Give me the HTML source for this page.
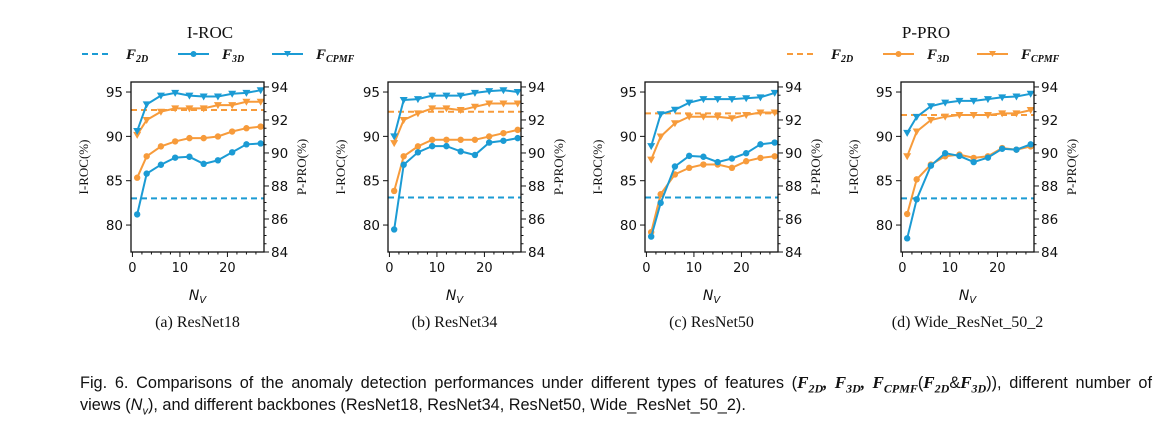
<!DOCTYPE html>
<html><head><meta charset="utf-8">
<style>
body{margin:0;background:#fff;width:1171px;height:424px;overflow:hidden;}
svg{display:block;}
.cap{position:absolute;left:80px;font-family:"Liberation Sans",sans-serif;font-size:16.3px;color:#111;white-space:nowrap;}
.m{font-family:"Liberation Serif",serif;font-weight:bold;font-style:italic;font-size:17px;}
.m sub{font-size:12px;}
</style></head>
<body>
<svg id="chart" width="1171" height="424" xmlns="http://www.w3.org/2000/svg"></svg>
<div class="cap" style="top:373px;width:1072px;text-align:justify;text-align-last:justify;">Fig. 6. Comparisons of the anomaly detection performances under different types of features (<span class="m">F<sub>2D</sub>, F<sub>3D</sub>, F<sub>CPMF</sub></span>(<span class="m">F<sub>2D</sub></span>&amp;<span class="m">F<sub>3D</sub></span>)), different number of</div>
<div class="cap" style="top:396px;">views (<i>N<sub style="font-size:11px">v</sub></i>), and different backbones (ResNet18, ResNet34, ResNet50, Wide_ResNet_50_2).</div>
<script>
const nv = [1,3,6,9,12,15,18,21,24,27];
const panels = ["(a) ResNet18","(b) ResNet34","(c) ResNet50","(d) Wide_ResNet_50_2"];
const roc2d = [83.0, 83.1, 83.1, 83.0];
const pro2d = [92.6, 92.5, 92.4, 92.3];
const roc3d = [
 [81.2,85.8,86.8,87.6,87.7,86.9,87.3,88.2,89.1,89.2],
 [79.5,86.8,88.2,88.9,88.9,88.3,87.9,89.3,89.5,89.8],
 [78.7,82.5,86.6,87.8,87.7,87.1,87.5,88.1,89.1,89.3],
 [78.5,82.9,86.7,88.1,87.8,87.1,87.6,88.6,88.5,89.1]];
const rocCpmf = [
 [90.6,93.6,94.6,94.9,94.6,94.5,94.5,94.8,94.9,95.2],
 [90.0,94.1,94.2,94.6,94.6,94.6,94.9,95.1,95.2,95.0],
 [88.9,92.5,93.0,93.8,94.2,94.2,94.2,94.3,94.4,94.9],
 [90.4,92.2,93.4,93.8,94.0,94.0,94.2,94.4,94.5,94.8]];
const pro3d = [
 [88.5,89.8,90.4,90.7,90.9,90.9,91.0,91.3,91.5,91.6],
 [87.7,89.8,90.4,90.8,90.8,90.8,90.8,91.0,91.2,91.4],
 [85.2,87.5,88.7,89.1,89.3,89.3,89.1,89.5,89.7,89.8],
 [86.3,88.4,89.3,89.8,89.9,89.7,89.8,90.3,90.2,90.4]];
const proCpmf = [
 [91.1,92.0,92.5,92.7,92.7,92.7,92.9,92.9,93.1,93.1],
 [90.6,92.0,92.4,92.7,92.7,92.6,92.8,93.0,93.0,93.0],
 [89.6,91.0,91.8,92.2,92.2,92.2,92.1,92.3,92.45,92.45],
 [89.8,91.3,92.0,92.2,92.3,92.3,92.3,92.4,92.4,92.6]];
const xTicks = [0,10,20];
const rocTicks = [80,85,90,95];
const proTicks = [84,86,88,90,92,94];

const BLUE="#1b9bd4", ORANGE="#f79b3b";
const NS="http://www.w3.org/2000/svg";
const svg=document.getElementById('chart');
function mk(tag,attrs,parent){const e=document.createElementNS(NS,tag);for(const k in attrs)e.setAttribute(k,attrs[k]);(parent||svg).appendChild(e);return e;}
function txt(s,attrs,parent){const e=mk('text',attrs,parent);e.textContent=s;return e;}

const lefts=[131,388,645,901], W=133, TOP=82, BOT=252;
const X0=-0.3, X1=27.7, L0=76.96, L1=96.13, R0=84, R1=94.3;

const t1=txt("I-ROC",{x:210,y:38,'font-family':'Liberation Serif, serif','font-size':17,'text-anchor':'middle',fill:'#111'});

const t2=txt("P-PRO",{x:926,y:38,'font-family':'Liberation Serif, serif','font-size':17,'text-anchor':'middle',fill:'#111'});


function legendEntry(x,color,kind,sub,name){
  const g=mk('g',{});
  
  
  const y=54;
  if(kind==='dash') mk('line',{x1:x,y1:y,x2:x+30,y2:y,stroke:color,'stroke-width':2,'stroke-dasharray':'6,4'},g);
  else mk('line',{x1:x,y1:y,x2:x+31,y2:y,stroke:color,'stroke-width':2},g);
  if(kind==='dot') mk('circle',{cx:x+15.5,cy:y,r:3,fill:color},g);
  if(kind==='tri') mk('path',{d:`M${x+12},${y-3}L${x+19},${y-3}L${x+15.5},${y+3}Z`,fill:color},g);
  const t=txt('',{x:x+44,y:y+5,'font-family':'Liberation Serif, serif','font-size':15,'font-weight':'bold','font-style':'italic',fill:'#111'},g);
  const a=document.createElementNS(NS,'tspan');a.textContent='F';t.appendChild(a);
  const b=document.createElementNS(NS,'tspan');b.setAttribute('font-size',10);b.setAttribute('dy',3);b.textContent=sub;t.appendChild(b);
}
legendEntry(82,BLUE,'dash','2D','legend-roc-f2d');
legendEntry(178,BLUE,'dot','3D','legend-roc-f3d');
legendEntry(272,BLUE,'tri','CPMF','legend-roc-fcpmf');
legendEntry(787,ORANGE,'dash','2D','legend-pro-f2d');
legendEntry(883,ORANGE,'dot','3D','legend-pro-f3d');
legendEntry(977,ORANGE,'tri','CPMF','legend-pro-fcpmf');

for(let p=0;p<4;p++){
  const L=lefts[p], R=L+W;
  const g=mk('g',{});
  
  
  const xs=v=>L+(v-X0)/(X1-X0)*W;
  const yl=v=>BOT-(v-L0)/(L1-L0)*(BOT-TOP);
  const yr=v=>BOT-(v-R0)/(R1-R0)*(BOT-TOP);
  const d1=mk('line',{x1:L,x2:R,y1:yl(roc2d[p]),y2:yl(roc2d[p]),stroke:BLUE,'stroke-width':2,'stroke-dasharray':'6,4'},g);
  
  const d2=mk('line',{x1:L,x2:R,y1:yr(pro2d[p]),y2:yr(pro2d[p]),stroke:ORANGE,'stroke-width':2,'stroke-dasharray':'6,4'},g);
  
  function series(vals,yf,color,marker,name){
    const pts=nv.map((v,i)=>xs(v).toFixed(1)+','+yf(vals[i]).toFixed(1)).join(' ');
    const pl=mk('polyline',{points:pts,fill:'none',stroke:color,'stroke-width':2},g);
    
    
    nv.forEach((v,i)=>{
      const cx=xs(v), cy=yf(vals[i]);
      let m;
      if(marker==='dot') m=mk('circle',{cx:cx,cy:cy,r:3.2,fill:color},g);
      else m=mk('path',{d:`M${cx-4},${cy-3}L${cx+4},${cy-3}L${cx},${cy+4}Z`,fill:color},g);
      
      
    });
  }
  series(pro3d[p],yr,ORANGE,'dot','pro-f3d-series');
  series(proCpmf[p],yr,ORANGE,'tri','pro-fcpmf-series');
  series(roc3d[p],yl,BLUE,'dot','roc-f3d-series');
  series(rocCpmf[p],yl,BLUE,'tri','roc-fcpmf-series');
  const fr=mk('rect',{x:L,y:TOP,width:W,height:BOT-TOP,fill:'none',stroke:'#111','stroke-width':1.3},g);
  
  for(let v=0;v<=26;v+=2){const x=xs(v);mk('line',{x1:x,x2:x,y1:BOT,y2:BOT+(v%10===0?5:2.5),stroke:'#111','stroke-width':1},g);}
  xTicks.forEach(v=>{const t=txt(String(v),{x:xs(v),y:BOT+20,'font-family':'DejaVu Sans, sans-serif','font-size':13,'text-anchor':'middle',fill:'#111'},g);
    });
  rocTicks.forEach(v=>{const y=yl(v);mk('line',{x1:L-5,x2:L,y1:y,y2:y,stroke:'#111','stroke-width':1},g);
    const t=txt(String(v),{x:L-8,y:y+5,'font-family':'DejaVu Sans, sans-serif','font-size':13.5,'text-anchor':'end',fill:'#111'},g);
    });
  for(let v=84;v<=94.01;v+=0.5){const y=yr(v);const maj=Math.abs(v-Math.round(v))<0.01&&Math.round(v)%2===0;
    mk('line',{x1:R,x2:R+(maj?5:2.5),y1:y,y2:y,stroke:'#111','stroke-width':1},g);}
  proTicks.forEach(v=>{const y=yr(v);
    const t=txt(String(v),{x:R+7,y:y+5,'font-family':'DejaVu Sans, sans-serif','font-size':13.5,'text-anchor':'start',fill:'#111'},g);
    });
  const cy=(TOP+BOT)/2;
  const yt=txt('I-ROC(%)',{x:0,y:0,transform:`translate(${L-43},${cy}) rotate(-90)`,'font-family':'Liberation Serif, serif','font-size':13,'text-anchor':'middle',fill:'#111'},g);
  
  const yt2=txt('P-PRO(%)',{x:0,y:0,transform:`translate(${R+42},${cy}) rotate(-90)`,'font-family':'Liberation Serif, serif','font-size':13,'text-anchor':'middle',fill:'#111'},g);
  
  const xt=txt('',{x:L+W/2,y:300,'font-family':'DejaVu Sans, sans-serif','font-size':14,'font-style':'italic','text-anchor':'middle',fill:'#111'},g);
  
  const a=document.createElementNS(NS,'tspan');a.textContent='N';xt.appendChild(a);
  const b=document.createElementNS(NS,'tspan');b.setAttribute('font-size',10);b.setAttribute('dy',3);b.textContent='V';xt.appendChild(b);
  const sc=txt(panels[p],{x:L+W/2,y:327,'font-family':'Liberation Serif, serif','font-size':16,'text-anchor':'middle',fill:'#111'},g);
  
}
</script>
</body></html>
